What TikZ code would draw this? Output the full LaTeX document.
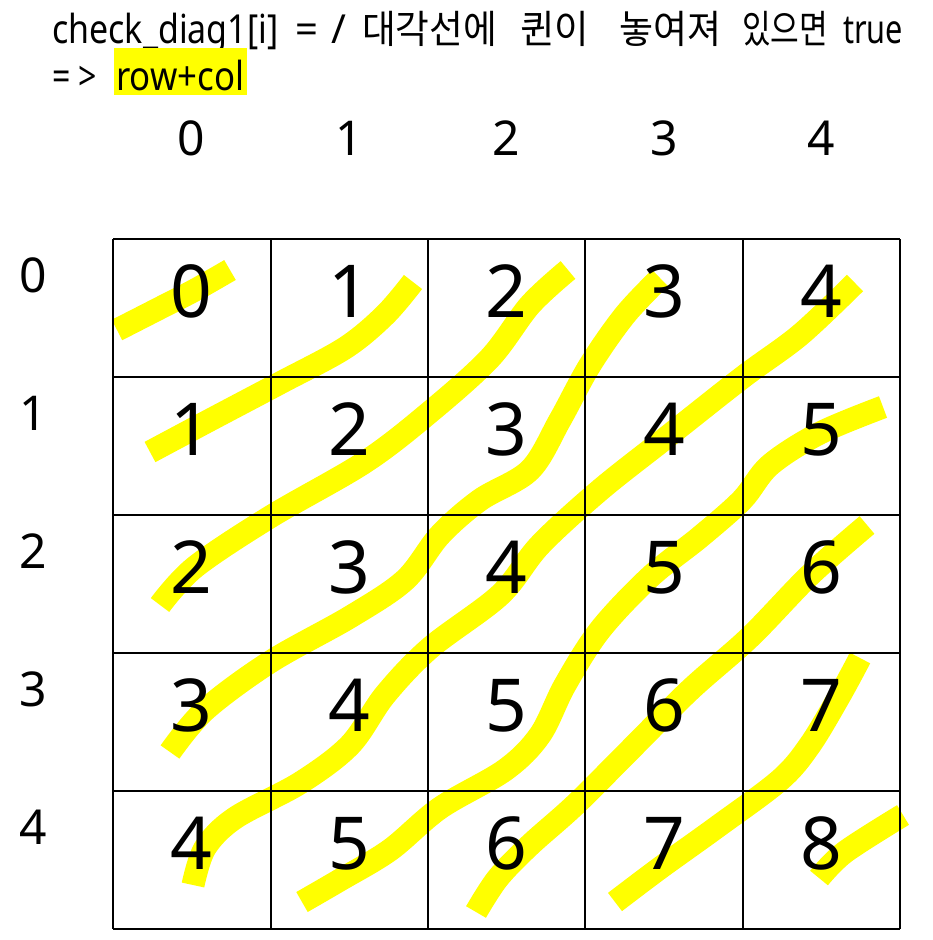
\documentclass[tikz,border=0pt]{standalone}
\usepackage{graphicx}
\usepackage{fontspec}
\setmainfont{Noto Sans}
\newfontfamily\kr{Noto Sans CJK KR}
\definecolor{hlyellow}{RGB}{255,255,0}
\newcommand{\fitto}[2]{\resizebox{#1}{\height}{#2}}
\begin{document}
\begin{tikzpicture}[x=1pt,y=-1pt,
  hl/.style={draw=hlyellow, line width=23pt, line cap=butt, line join=round},
  gridline/.style={draw=black, line width=1.6pt},
  cellnum/.style={anchor=base, inner sep=0pt, font=\fontsize{73}{80}\selectfont},
  axisnum/.style={anchor=base, inner sep=0pt, font=\fontsize{48}{54}\selectfont},
  headtext/.style={anchor=base west, inner sep=0pt, font=\fontsize{40}{44}\selectfont},
  krtext/.style={anchor=base west, inner sep=0pt, font=\fontsize{39}{44}\kr}]
\useasboundingbox[fill=white] (0,0) rectangle (933,940);

% highlighter strokes
\draw[hl] plot[smooth, tension=0.55] coordinates {(117,330) (160,308) (195,290) (230,270)};
\draw[hl] plot[smooth, tension=0.55] coordinates {(150,452) (210,420) (280,383) (345,348) (385,315) (413,282)};
\draw[hl] plot[smooth, tension=0.55] coordinates {(160,605) (195,567) (270,517) (365,462) (430,412) (490,358) (530,305) (568,270)};
\draw[hl] plot[smooth, tension=0.55] coordinates {(170,752) (205,710) (270,662) (350,617) (405,580) (440,535) (480,500) (530,470) (560,420) (590,365) (625,315) (660,278)};
\draw[hl] plot[smooth, tension=0.55] coordinates {(855,283) (800,335) (743,377) (667,437) (600,490) (540,545) (500,595) (430,648) (385,695) (350,745) (300,783) (235,818) (205,848) (193,885)};
\draw[hl] plot[smooth, tension=0.55] coordinates {(883,407) (820,433) (770,465) (742,500) (700,537) (650,577) (600,630) (565,685) (540,735) (505,770) (440,808) (390,850) (340,880) (302,902)};
\draw[hl] plot[smooth, tension=0.55] coordinates {(867,525) (810,575) (750,637) (690,690) (630,750) (575,805) (530,845) (498,878) (476,912)};
\draw[hl] plot[smooth, tension=0.55] coordinates {(860,658) (840,695) (810,745) (780,780) (717,827) (660,868) (615,902)};
\draw[hl] plot[smooth, tension=0.55] coordinates {(819,878) (845,852) (903,815)};

% grid
\foreach \x in {113,271,428,585,743,900} {
  \draw[gridline] (\x,239) -- (\x,929);
}
\foreach \y in {239,377,515,653,791,929} {
  \draw[gridline] (113,\y) -- (900,\y);
}

% cell values
\foreach \r in {0,...,4} {
  \foreach \c in {0,...,4} {
    \pgfmathtruncatemacro{\v}{\r+\c}
    \node[cellnum] (cell-\r-\c) at ({191.7+\c*157.4},{317+\r*138}) {\v};
  }
}

% column headers
\foreach \c in {0,...,4} {
  \node[axisnum] (col-\c) at ({191.7+\c*157.4},155) {\c};
}
% row headers
\foreach \r in {0,...,4} {
  \node[axisnum] (row-\r) at (33,{292+\r*138}) {\r};
}

% title text
\node[headtext] (t1) at (52,43) {\fitto{226pt}{check\_diag1[i]}};
\node[headtext] (t2) at (295,43) {=};
\node[headtext] (t3) at (331,43) {/};
\node[krtext] (t4) at (362,43) {\fitto{135pt}{대각선에}};
\node[krtext] (t5) at (520,43) {\fitto{69pt}{퀸이}};
\node[krtext] (t6) at (619,43) {\fitto{102pt}{놓여져}};
\node[krtext] (t7) at (742,43) {\fitto{86pt}{있으면}};
\node[headtext] (t8) at (843,43) {\fitto{60pt}{true}};
\node[headtext] (arrow) at (52,90) {\fitto{45pt}{= >}};
\node[fill=hlyellow, anchor=north west, minimum width=133pt, minimum height=47pt, inner sep=0pt] (hlbox) at (114,48) {};
\node[headtext] (rowcol) at (116,90) {\fitto{128pt}{row+col}};
\end{tikzpicture}
\end{document}
